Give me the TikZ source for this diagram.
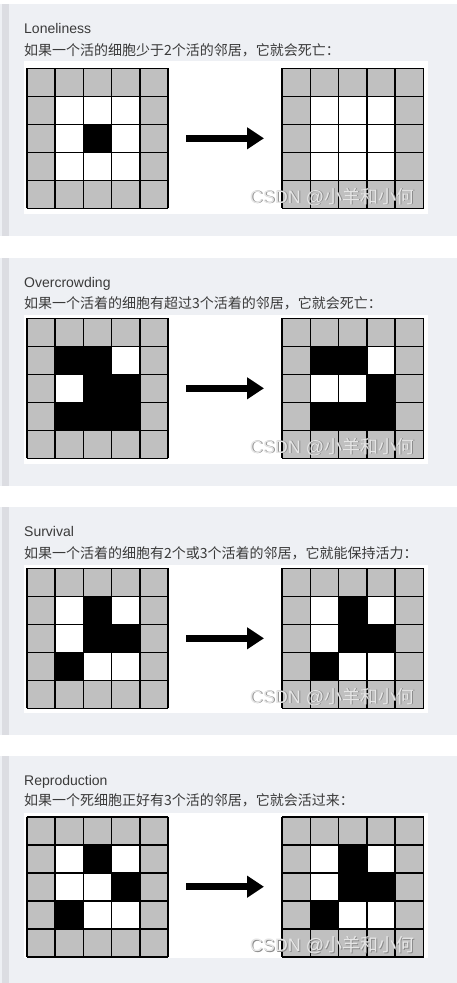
\documentclass[tikz,border=0pt]{standalone}
\usepackage{fontspec}
\setmainfont{Liberation Sans}
\newfontfamily\cjk{Noto Sans CJK SC}
\usetikzlibrary{arrows.meta}
\definecolor{panelbg}{HTML}{EEF0F4}
\definecolor{stripe}{HTML}{DCDDE2}
\definecolor{cellgray}{HTML}{C0C0C0}
\definecolor{txt}{HTML}{3A3A3A}
\definecolor{wmfill}{HTML}{E6E6E6}
\definecolor{wmedge}{HTML}{8C8C8C}
\tikzset{
  titletext/.style={anchor=base west, inner sep=0pt, text=txt, font=\fontsize{14}{16}\selectfont},
  ruletext/.style={anchor=base west, inner sep=0pt, text=txt, font=\cjk\fontsize{14}{16}\selectfont},
  gridline/.style={line width=1.6pt, black},
  bigarrow/.style={line width=7pt, black, -{Triangle[length=17pt,width=21pt]}},
  wmtext/.style={inner sep=0pt, font=\fontsize{18}{20}\selectfont},
}
% #1 x0, #2 y0, #3 inner pattern (9 values, 1 = black)
\newcommand{\lifegrid}[3]{%
  \begin{scope}[shift={(#1,#2)}]
    \fill[cellgray] (0,0) rectangle (141.5,140);
    \foreach \v [count=\i from 0] in {#3} {
      \pgfmathtruncatemacro\rr{div(\i,3)}
      \pgfmathtruncatemacro\cc{mod(\i,3)}
      \ifnum\v=1 \def\cellcol{black}\else\def\cellcol{white}\fi
      \fill[\cellcol] ({(\cc+1)*28.3},{(\rr+1)*28}) rectangle +(28.3,28);
    }
    \foreach \k in {0,...,5} {
      \draw[gridline] ({\k*28.3},0) -- ({\k*28.3},140);
      \draw[gridline] (0,{\k*28}) -- (141.5,{\k*28});
    }
  \end{scope}}
% #1 top, #2 bottom, #3 white top, #4 white bottom
\newcommand{\panelbox}[4]{%
  \fill[panelbg] (0,#1) rectangle (457,#2);
  \fill[stripe] (2,#1) rectangle (9,#2);
  \fill[white] (24,#3) rectangle (427.5,#4);}
\begin{document}
\begin{tikzpicture}[x=1pt,y=-1pt]
\useasboundingbox (0,0) rectangle (457,983);
\fill[white] (0,0) rectangle (457,983);

% ---------- Panel 1 ----------
\panelbox{4}{235.7}{61}{214}
\node[titletext] (t1) at (24,33.3) {Loneliness};
\node[ruletext] (r1) at (24,55.5) {如果一个活的细胞少于2个活的邻居，它就会死亡：};
\lifegrid{26.7}{68.3}{0,0,0,0,1,0,0,0,0}
\lifegrid{282}{68.3}{0,0,0,0,0,0,0,0,0}
\coordinate (a1s) at (186,138.3);
\coordinate (a1e) at (264,138.3);
\draw[bigarrow] (a1s) -- (a1e);
\node[wmtext, text=wmedge] (w1s) at (333,197.6) {CSDN @{\cjk 小羊和小何}};
\node[wmtext, text=wmfill] (w1) at (332,196.8) {CSDN @{\cjk 小羊和小何}};

% ---------- Panel 2 ----------
\panelbox{257.7}{485.7}{315}{464.3}
\node[titletext] (t2) at (24,287.3) {Overcrowding};
\node[ruletext] (r2) at (24,308.5) {如果一个活着的细胞有超过3个活着的邻居，它就会死亡：};
\lifegrid{26.7}{318.3}{1,1,0,0,1,1,1,1,1}
\lifegrid{282}{318.3}{1,1,0,0,0,1,1,1,1}
\coordinate (a2s) at (186,388.3);
\coordinate (a2e) at (264,388.3);
\draw[bigarrow] (a2s) -- (a2e);
\node[wmtext, text=wmedge] (w2s) at (333,447.6) {CSDN @{\cjk 小羊和小何}};
\node[wmtext, text=wmfill] (w2) at (332,446.8) {CSDN @{\cjk 小羊和小何}};

% ---------- Panel 3 ----------
\panelbox{506.7}{735}{565}{713.3}
\node[titletext] (t3) at (24,536.7) {Survival};
\node[ruletext] (r3) at (24,558.5) {如果一个活着的细胞有2个或3个活着的邻居，它就能保持活力：};
\lifegrid{26.7}{568.3}{0,1,0,0,1,1,1,0,0}
\lifegrid{282}{568.3}{0,1,0,0,1,1,1,0,0}
\coordinate (a3s) at (186,638.3);
\coordinate (a3e) at (264,638.3);
\draw[bigarrow] (a3s) -- (a3e);
\node[wmtext, text=wmedge] (w3s) at (333,697.6) {CSDN @{\cjk 小羊和小何}};
\node[wmtext, text=wmfill] (w3) at (332,696.8) {CSDN @{\cjk 小羊和小何}};

% ---------- Panel 4 ----------
\panelbox{756}{983}{813.3}{958.3}
\node[titletext] (t4) at (24,785) {Reproduction};
\node[ruletext] (r4) at (24,805) {如果一个死细胞正好有3个活的邻居，它就会活过来：};
\lifegrid{26.7}{816.7}{0,1,0,0,0,1,1,0,0}
\lifegrid{282}{816.7}{0,1,0,0,1,1,1,0,0}
\coordinate (a4s) at (186,886.7);
\coordinate (a4e) at (264,886.7);
\draw[bigarrow] (a4s) -- (a4e);
\node[wmtext, text=wmedge] (w4s) at (333,946.1) {CSDN @{\cjk 小羊和小何}};
\node[wmtext, text=wmfill] (w4) at (332,945.3) {CSDN @{\cjk 小羊和小何}};
\end{tikzpicture}
\end{document}
